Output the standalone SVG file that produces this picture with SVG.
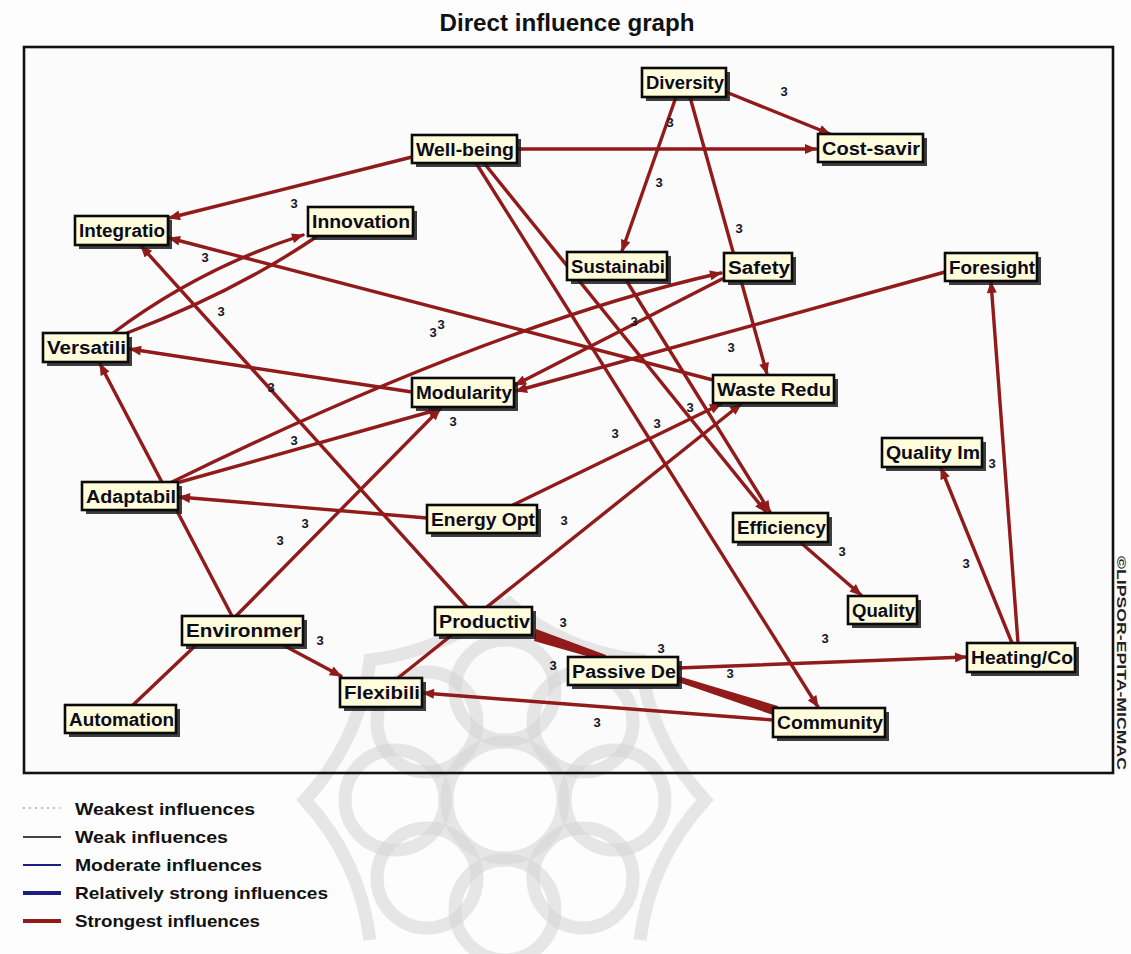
<svg xmlns="http://www.w3.org/2000/svg" width="1131" height="954" viewBox="0 0 1131 954">
<defs>
<style>
.e{fill:none;stroke:#911a1a;stroke-width:3.4;stroke-linecap:round}
.w{fill:#911a1a;stroke:none}
.box{fill:#fffcdc;stroke:#0a0a0a;stroke-width:2.6}
.sh{fill:#1c1c1c;opacity:0.85}
.nt{font-family:"Liberation Sans",Arial,sans-serif;font-size:18px;font-weight:bold;fill:#0b0b1a}
.lb{font-family:"Liberation Sans",Arial,sans-serif;font-size:13px;font-weight:bold;fill:#151528;text-anchor:middle}
.lg{font-family:"Liberation Sans",Arial,sans-serif;font-size:17px;font-weight:bold;fill:#111}
.wm{fill:none;stroke:#d4d4d4;stroke-width:13;opacity:0.55}
</style>
<marker id="ah" viewBox="0 0 12 10" refX="11" refY="5" markerWidth="13" markerHeight="10" markerUnits="userSpaceOnUse" orient="auto">
<path d="M0,0 L12,5 L0,10 z" fill="#911a1a"/>
</marker>
</defs>
<rect x="0" y="0" width="1131" height="954" fill="#fdfdfd"/>
<text x="567" y="31" text-anchor="middle" font-family="'Liberation Sans',Arial,sans-serif" font-size="23" font-weight="bold" fill="#111" textLength="255" lengthAdjust="spacingAndGlyphs">Direct influence graph</text>
<rect x="24" y="47" width="1089" height="726" fill="#fbfbfb" stroke="none"/>
<g id="watermark">
<circle class="wm" cx="505" cy="800" r="58"/>
<circle class="wm" cx="505" cy="690" r="50"/>
<circle class="wm" cx="583" cy="722" r="50"/>
<circle class="wm" cx="615" cy="800" r="50"/>
<circle class="wm" cx="583" cy="878" r="50"/>
<circle class="wm" cx="505" cy="910" r="50"/>
<circle class="wm" cx="427" cy="878" r="50"/>
<circle class="wm" cx="395" cy="800" r="50"/>
<circle class="wm" cx="427" cy="722" r="50"/>
<path class="wm" d="M505,600 Q560,650 640,660 Q650,740 705,800 Q650,860 640,940 M505,600 Q450,650 370,660 Q360,740 305,800 Q360,860 370,940"/>
</g>
<g id="connectors">
<line class="e" x1="517" y1="149" x2="816" y2="149" marker-end="url(#ah)"/>
<line class="e" x1="726" y1="92" x2="830" y2="134" marker-end="url(#ah)"/>
<line class="e" x1="676" y1="97" x2="622" y2="251" marker-end="url(#ah)"/>
<line class="e" x1="690" y1="97" x2="767" y2="374" marker-end="url(#ah)"/>
<line class="e" x1="412" y1="157" x2="169" y2="218" marker-end="url(#ah)"/>
<line class="e" x1="476" y1="163" x2="818" y2="707" marker-end="url(#ah)"/>
<line class="e" x1="484" y1="163" x2="766" y2="512" marker-end="url(#ah)"/>
<line class="e" x1="626" y1="280" x2="770" y2="512" marker-end="url(#ah)"/>
<line class="e" x1="713" y1="380" x2="169" y2="238" marker-end="url(#ah)"/>
<line class="e" x1="467" y1="607" x2="141" y2="246" marker-end="url(#ah)"/>
<path class="e" d="M113,333 Q200,268 303,235" marker-end="url(#ah)"/>
<path class="e" d="M127,333 Q235,292 316,237"/>
<line class="e" x1="412" y1="392" x2="130" y2="349" marker-end="url(#ah)"/>
<line class="e" x1="232" y1="616" x2="100" y2="364" marker-end="url(#ah)"/>
<path class="e" d="M172,482 Q497,323 721,273" marker-end="url(#ah)"/>
<line class="e" x1="180" y1="482" x2="440" y2="409" marker-end="url(#ah)"/>
<line class="e" x1="236" y1="616" x2="440" y2="409" marker-end="url(#ah)"/>
<line class="e" x1="133" y1="705" x2="195" y2="646"/>
<line class="e" x1="283" y1="645" x2="341" y2="676" marker-end="url(#ah)"/>
<line class="e" x1="398" y1="678" x2="741" y2="404" marker-end="url(#ah)"/>
<line class="e" x1="513" y1="505" x2="721" y2="404" marker-end="url(#ah)"/>
<line class="e" x1="427" y1="518" x2="179" y2="497" marker-end="url(#ah)"/>
<line class="e" x1="722" y1="279" x2="515" y2="385" marker-end="url(#ah)"/>
<line class="e" x1="945" y1="272" x2="516" y2="391" marker-end="url(#ah)"/>
<polygon class="w" points="606,655 604,661 534,641 536,629"/>
<polygon class="w" points="678,676 678,682 776,716 778,706"/>
<line class="e" x1="678" y1="668" x2="966" y2="657" marker-end="url(#ah)"/>
<line class="e" x1="773" y1="720" x2="423" y2="693" marker-end="url(#ah)"/>
<line class="e" x1="800" y1="542" x2="861" y2="595" marker-end="url(#ah)"/>
<line class="e" x1="1012" y1="643" x2="941" y2="468" marker-end="url(#ah)"/>
<line class="e" x1="1018" y1="643" x2="991" y2="282" marker-end="url(#ah)"/>
</g>
<g id="labels">
<text class="lb" x="784" y="96">3</text>
<text class="lb" x="670" y="127">3</text>
<text class="lb" x="659" y="187">3</text>
<text class="lb" x="739" y="233">3</text>
<text class="lb" x="294" y="208">3</text>
<text class="lb" x="205" y="262">3</text>
<text class="lb" x="221" y="316">3</text>
<text class="lb" x="433" y="337">3</text>
<text class="lb" x="441" y="329">3</text>
<text class="lb" x="271" y="392">3</text>
<text class="lb" x="294" y="445">3</text>
<text class="lb" x="453" y="426">3</text>
<text class="lb" x="634" y="326">3</text>
<text class="lb" x="731" y="352">3</text>
<text class="lb" x="690" y="412">3</text>
<text class="lb" x="657" y="428">3</text>
<text class="lb" x="615" y="438">3</text>
<text class="lb" x="280" y="545">3</text>
<text class="lb" x="305" y="528">3</text>
<text class="lb" x="564" y="525">3</text>
<text class="lb" x="992" y="468">3</text>
<text class="lb" x="842" y="556">3</text>
<text class="lb" x="966" y="568">3</text>
<text class="lb" x="320" y="645">3</text>
<text class="lb" x="563" y="627">3</text>
<text class="lb" x="553" y="670">3</text>
<text class="lb" x="661" y="653">3</text>
<text class="lb" x="730" y="678">3</text>
<text class="lb" x="825" y="643">3</text>
<text class="lb" x="597" y="727">3</text>
</g>
<g id="n-integratio"><rect class="sh" x="79" y="220" width="93" height="29"/><rect class="box" x="75" y="216" width="93" height="29"/><text class="nt" x="79" y="237" textLength="86" lengthAdjust="spacingAndGlyphs">Integratio</text></g>
<g id="n-innovation"><rect class="sh" x="312" y="211" width="105" height="29"/><rect class="box" x="308" y="207" width="105" height="29"/><text class="nt" x="312" y="228" textLength="98" lengthAdjust="spacingAndGlyphs">Innovation</text></g>
<g id="n-wellbeing"><rect class="sh" x="416" y="139" width="105" height="28"/><rect class="box" x="412" y="135" width="105" height="28"/><text class="nt" x="416" y="156" textLength="98" lengthAdjust="spacingAndGlyphs">Well-being</text></g>
<g id="n-diversity"><rect class="sh" x="646" y="72" width="84" height="29"/><rect class="box" x="642" y="68" width="84" height="29"/><text class="nt" x="646" y="89" textLength="78" lengthAdjust="spacingAndGlyphs">Diversity</text></g>
<g id="n-costsaving"><rect class="sh" x="822" y="138" width="105" height="28"/><rect class="box" x="818" y="134" width="105" height="28"/><text class="nt" x="822" y="155" textLength="98" lengthAdjust="spacingAndGlyphs">Cost-savir</text></g>
<g id="n-sustainability"><rect class="sh" x="571" y="256" width="100" height="28"/><rect class="box" x="567" y="252" width="100" height="28"/><text class="nt" x="571" y="273" textLength="94" lengthAdjust="spacingAndGlyphs">Sustainabi</text></g>
<g id="n-safety"><rect class="sh" x="728" y="257" width="68" height="28"/><rect class="box" x="724" y="253" width="68" height="28"/><text class="nt" x="728" y="274" textLength="62" lengthAdjust="spacingAndGlyphs">Safety</text></g>
<g id="n-foresight"><rect class="sh" x="949" y="257" width="92" height="28"/><rect class="box" x="945" y="253" width="92" height="28"/><text class="nt" x="949" y="274" textLength="86" lengthAdjust="spacingAndGlyphs">Foresight</text></g>
<g id="n-versatility"><rect class="sh" x="47" y="337" width="85" height="29"/><rect class="box" x="43" y="333" width="85" height="29"/><text class="nt" x="47" y="354" textLength="79" lengthAdjust="spacingAndGlyphs">Versatili</text></g>
<g id="n-modularity"><rect class="sh" x="416" y="382" width="102" height="29"/><rect class="box" x="412" y="378" width="102" height="29"/><text class="nt" x="416" y="399" textLength="96" lengthAdjust="spacingAndGlyphs">Modularity</text></g>
<g id="n-wastereduction"><rect class="sh" x="717" y="379" width="121" height="28"/><rect class="box" x="713" y="375" width="121" height="28"/><text class="nt" x="717" y="396" textLength="114" lengthAdjust="spacingAndGlyphs">Waste Redu</text></g>
<g id="n-adaptability"><rect class="sh" x="86" y="486" width="96" height="28"/><rect class="box" x="82" y="482" width="96" height="28"/><text class="nt" x="86" y="503" textLength="90" lengthAdjust="spacingAndGlyphs">Adaptabil</text></g>
<g id="n-energyopt"><rect class="sh" x="431" y="509" width="110" height="28"/><rect class="box" x="427" y="505" width="110" height="28"/><text class="nt" x="431" y="526" textLength="104" lengthAdjust="spacingAndGlyphs">Energy Opt</text></g>
<g id="n-efficiency"><rect class="sh" x="737" y="517" width="95" height="29"/><rect class="box" x="733" y="513" width="95" height="29"/><text class="nt" x="737" y="534" textLength="89" lengthAdjust="spacingAndGlyphs">Efficiency</text></g>
<g id="n-qualityim"><rect class="sh" x="886" y="442" width="100" height="29"/><rect class="box" x="882" y="438" width="100" height="29"/><text class="nt" x="886" y="459" textLength="94" lengthAdjust="spacingAndGlyphs">Quality Im</text></g>
<g id="n-quality"><rect class="sh" x="852" y="600" width="69" height="28"/><rect class="box" x="848" y="596" width="69" height="28"/><text class="nt" x="852" y="617" textLength="63" lengthAdjust="spacingAndGlyphs">Quality</text></g>
<g id="n-heating"><rect class="sh" x="971" y="647" width="108" height="29"/><rect class="box" x="967" y="643" width="108" height="29"/><text class="nt" x="971" y="664" textLength="102" lengthAdjust="spacingAndGlyphs">Heating/Co</text></g>
<g id="n-community"><rect class="sh" x="777" y="712" width="112" height="29"/><rect class="box" x="773" y="708" width="112" height="29"/><text class="nt" x="777" y="729" textLength="106" lengthAdjust="spacingAndGlyphs">Community</text></g>
<g id="n-environment"><rect class="sh" x="186" y="620" width="121" height="29"/><rect class="box" x="182" y="616" width="121" height="29"/><text class="nt" x="186" y="637" textLength="115" lengthAdjust="spacingAndGlyphs">Environmer</text></g>
<g id="n-automation"><rect class="sh" x="69" y="709" width="111" height="28"/><rect class="box" x="65" y="705" width="111" height="28"/><text class="nt" x="69" y="726" textLength="105" lengthAdjust="spacingAndGlyphs">Automation</text></g>
<g id="n-flexibility"><rect class="sh" x="344" y="682" width="82" height="29"/><rect class="box" x="340" y="678" width="82" height="29"/><text class="nt" x="344" y="699" textLength="76" lengthAdjust="spacingAndGlyphs">Flexibili</text></g>
<g id="n-productivity"><rect class="sh" x="439" y="611" width="97" height="28"/><rect class="box" x="435" y="607" width="97" height="28"/><text class="nt" x="439" y="628" textLength="91" lengthAdjust="spacingAndGlyphs">Productiv</text></g>
<g id="n-passive"><rect class="sh" x="572" y="661" width="110" height="28"/><rect class="box" x="568" y="657" width="110" height="28"/><text class="nt" x="572" y="678" textLength="104" lengthAdjust="spacingAndGlyphs">Passive De</text></g>
<rect x="24" y="47" width="1089" height="726" fill="none" stroke="#111" stroke-width="2.6"/>
<text transform="translate(1117,556) rotate(90)" font-family="'Liberation Sans',Arial,sans-serif" font-size="12" font-weight="bold" fill="#222" textLength="214" lengthAdjust="spacingAndGlyphs">©LIPSOR-EPITA-MICMAC</text>
<g id="legend">
<line x1="23" y1="808" x2="60" y2="808" stroke="#bdbdbd" stroke-width="2" stroke-dasharray="2,4"/>
<line x1="23" y1="837" x2="61" y2="837" stroke="#444" stroke-width="2"/>
<line x1="23" y1="865" x2="61" y2="865" stroke="#1c1c86" stroke-width="2.2"/>
<line x1="23" y1="893" x2="61" y2="893" stroke="#1c1c86" stroke-width="4"/>
<line x1="23" y1="921" x2="61" y2="921" stroke="#911a1a" stroke-width="4"/>
<text class="lg" x="75" y="815" textLength="180" lengthAdjust="spacingAndGlyphs">Weakest influences</text>
<text class="lg" x="75" y="843" textLength="153" lengthAdjust="spacingAndGlyphs">Weak influences</text>
<text class="lg" x="75" y="871" textLength="187" lengthAdjust="spacingAndGlyphs">Moderate influences</text>
<text class="lg" x="75" y="899" textLength="253" lengthAdjust="spacingAndGlyphs">Relatively strong influences</text>
<text class="lg" x="75" y="927" textLength="185" lengthAdjust="spacingAndGlyphs">Strongest influences</text>
</g>
</svg>
